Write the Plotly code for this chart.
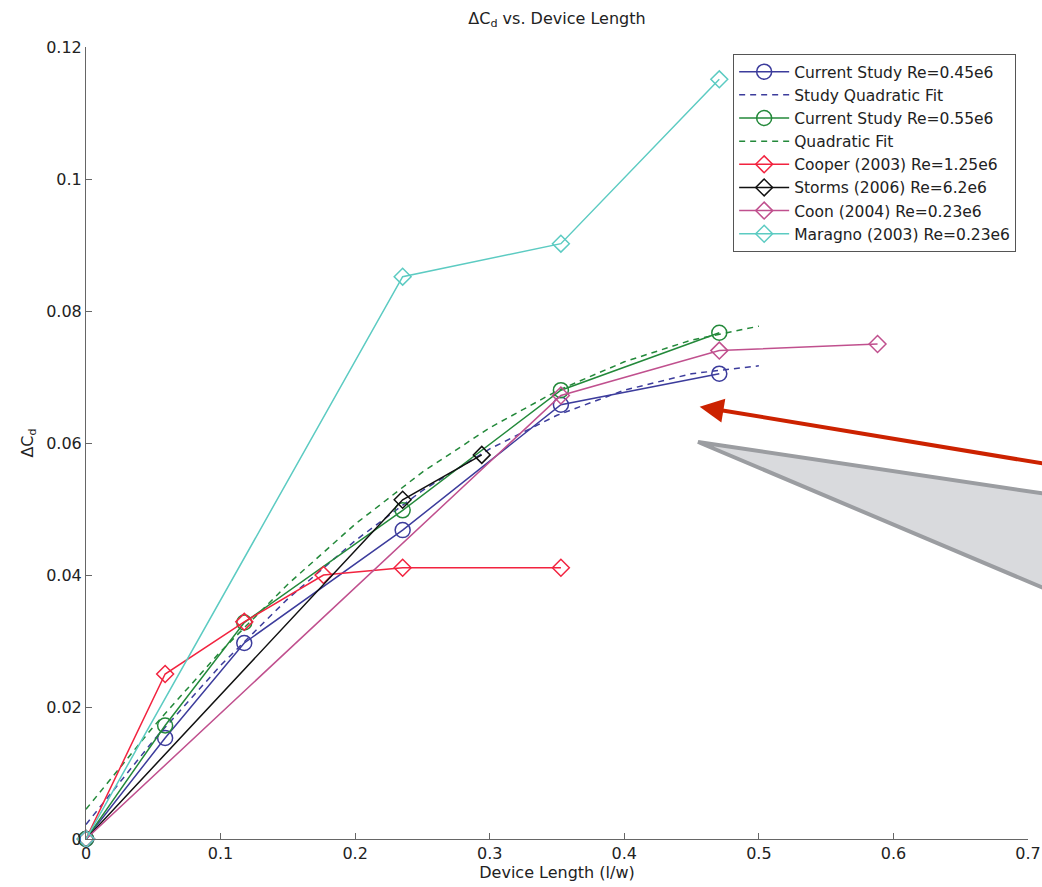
import plotly.graph_objects as go

# ---- data ----
study45_x = [0, 0.0588, 0.1176, 0.2353, 0.3529, 0.4706]
study45_y = [0, 0.0153, 0.0297, 0.0468, 0.0658, 0.0705]

fit45_x = [0, 0.05, 0.1, 0.15, 0.2, 0.25, 0.3, 0.35, 0.4, 0.45, 0.5]
fit45_y = [0.0022, 0.0149, 0.0263, 0.0364, 0.0452, 0.0528, 0.0591, 0.0642, 0.0680, 0.0705, 0.0717]

study55_x = [0, 0.0588, 0.1176, 0.2353, 0.3529, 0.4706]
study55_y = [0, 0.0172, 0.0328, 0.0498, 0.0680, 0.0767]

fit55_x = [0, 0.05, 0.1, 0.15, 0.2, 0.25, 0.3, 0.35, 0.4, 0.45, 0.5]
fit55_y = [0.0045, 0.0170, 0.0284, 0.0386, 0.0477, 0.0556, 0.0623, 0.0679, 0.0723, 0.0756, 0.0777]

cooper_x = [0, 0.0588, 0.1176, 0.1765, 0.2353, 0.3529]
cooper_y = [0, 0.0250, 0.0329, 0.0400, 0.0411, 0.0411]

storms_x = [0, 0.2353, 0.2941]
storms_y = [0, 0.0514, 0.0582]

coon_x = [0, 0.3529, 0.4706, 0.5882]
coon_y = [0, 0.0672, 0.0740, 0.0750]

maragno_x = [0, 0.2353, 0.3529, 0.4706]
maragno_y = [0, 0.0852, 0.0902, 0.1151]

x_ticks = [0, 0.1, 0.2, 0.3, 0.4, 0.5, 0.6, 0.7]
x_tick_text = ["0", "0.1", "0.2", "0.3", "0.4", "0.5", "0.6", "0.7"]
y_ticks = [0, 0.02, 0.04, 0.06, 0.08, 0.1, 0.12]
y_tick_text = ["0", "0.02", "0.04", "0.06", "0.08", "0.1", "0.12"]

# decoration (annotation arrow in data units, callout triangle in paper units)
arrow_head = (0.456, 0.0655)
arrow_tail = (0.714, 0.0568)
callout_pts = [(0.6497, 0.5013), (1.04, 0.4320), (1.04, 0.3050)]

# ---- styles ----
BLUE = "#3c3c9c"
GREEN = "#23893a"
RED = "#f2233f"
BLACK = "#111111"
PINK = "#c0508e"
CYAN = "#5ccbc2"
FONT = "DejaVu Sans, Verdana, sans-serif"
TXT = "#222222"

fig = go.Figure()

def add(name, x, y, color, marker=None, dash="solid"):
    mode = "lines+markers" if marker else "lines"
    kw = dict(x=x, y=y, name=name, mode=mode,
              line=dict(color=color, width=1.5, dash=dash))
    if marker:
        size = 15 if marker == "circle-open" else 13
        kw["marker"] = dict(symbol=marker, size=size, color=color,
                            line=dict(width=1.5, color=color))
    fig.add_trace(go.Scatter(**kw))

add("Current Study Re=0.45e6", study45_x, study45_y, BLUE, "circle-open")
add("Study Quadratic Fit", fit45_x, fit45_y, BLUE, None, "6px,5px")
add("Current Study Re=0.55e6", study55_x, study55_y, GREEN, "circle-open")
add("Quadratic Fit", fit55_x, fit55_y, GREEN, None, "6px,5px")
add("Cooper (2003) Re=1.25e6", cooper_x, cooper_y, RED, "diamond-open")
add("Storms (2006) Re=6.2e6", storms_x, storms_y, BLACK, "diamond-open")
add("Coon (2004) Re=0.23e6", coon_x, coon_y, PINK, "diamond-open")
add("Maragno (2003) Re=0.23e6", maragno_x, maragno_y, CYAN, "diamond-open")

for tr in fig.data:
    tr.cliponaxis = False

# callout triangle
path = "M {} {} L {} {} L {} {} Z".format(*[v for p in callout_pts for v in p])
fig.add_shape(type="path", path=path, xref="paper", yref="paper",
              fillcolor="#d9dadd", line=dict(color="#9b9da1", width=4),
              layer="above")

# red arrow
fig.add_annotation(x=arrow_head[0], y=arrow_head[1], ax=arrow_tail[0], ay=arrow_tail[1],
                   xref="x", yref="y", axref="x", ayref="y", text="",
                   showarrow=True, arrowhead=2, arrowsize=1.2, arrowwidth=4,
                   arrowcolor="#cc2200")

fig.update_layout(
    width=1042, height=887,
    margin=dict(l=86, r=14, t=47, b=48),
    paper_bgcolor="white", plot_bgcolor="white",
    font=dict(family=FONT, size=16, color=TXT),
    title=dict(text="ΔC<sub>d</sub> vs. Device Length", x=0.5345, xanchor="center",
               y=0.986, yanchor="top", font=dict(size=16, color=TXT)),
    showlegend=True,
    legend=dict(x=0.687, y=0.991, xanchor="left", yanchor="top",
                bgcolor="white", bordercolor="#555555", borderwidth=1,
                font=dict(size=15.5, color=TXT), tracegroupgap=0,
                itemwidth=50),
    xaxis=dict(range=[0, 0.7], tickvals=x_ticks, ticktext=x_tick_text,
               automargin=False,
               showgrid=False, zeroline=False, showline=True, linecolor="#666666",
               linewidth=1, ticks="inside", ticklen=6, tickcolor="#666666",
               title=dict(text="Device Length (l/w)", standoff=4, font=dict(size=16))),
    yaxis=dict(range=[0, 0.12], tickvals=y_ticks, ticktext=y_tick_text,
               automargin=False,
               showgrid=False, zeroline=False, showline=True, linecolor="#666666",
               linewidth=1, ticks="inside", ticklen=6, tickcolor="#666666",
               title=dict(text="ΔC<sub>d</sub>", standoff=8, font=dict(size=16))),
)

fig.write_html("out.html")
